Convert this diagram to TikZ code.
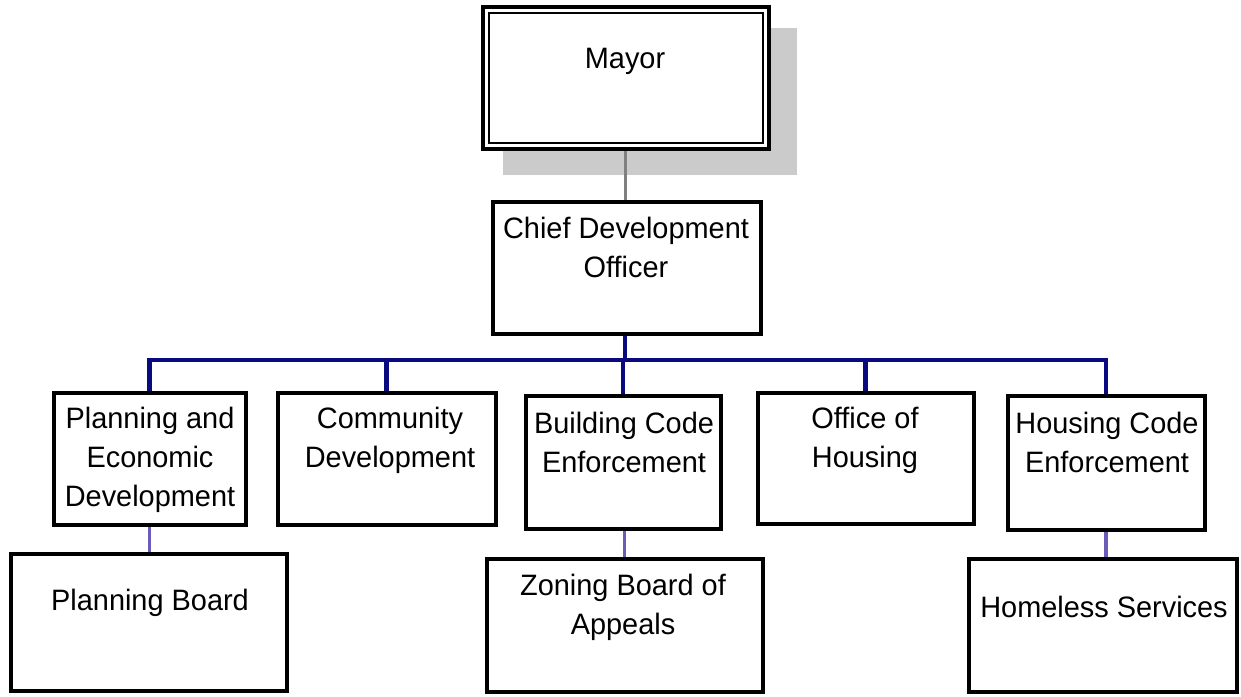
\documentclass[tikz,border=0pt]{standalone}
\usepackage{fontspec}
\setmainfont[FakeStretch=0.98]{Liberation Sans}
\definecolor{navy}{HTML}{0A0A80}
\definecolor{lilac}{HTML}{6A5CB8}
\definecolor{shadowgray}{HTML}{CBCBCB}
\definecolor{linkgray}{HTML}{808080}
\newcommand{\lbl}[1]{\fontsize{29.5}{39}\selectfont\begin{tabular}[t]{@{}c@{}}#1\end{tabular}}
\begin{document}
\begin{tikzpicture}[x=1pt,y=-1pt,
  box/.style={draw=black,line width=4pt,fill=white,rectangle,inner sep=0pt},
  txt/.style={anchor=base,inner sep=0pt},
  toplink/.style={draw=navy,line width=4.5pt},
  sublink/.style={draw=lilac,line width=3.5pt},
  mayorlink/.style={draw=linkgray,line width=3pt}]
\useasboundingbox (0,0) rectangle (1241,696);
% shadow of mayor box
\fill[shadowgray] (503,28) rectangle (797,175);
% mayor box
\node[box,line width=4.5pt,minimum width=286pt,minimum height=142pt] (mayor) at (626,78) {};
\node[draw=black,line width=2.5pt,rectangle,inner sep=0pt,minimum width=274pt,minimum height=130pt] (mayorin) at (626,78) {};
% boxes
\node[box,minimum width=268pt,minimum height=132pt] (cdo) at (626.5,267.5) {};
\node[box,minimum width=192pt,minimum height=132pt] (ped) at (149.5,458.5) {};
\node[box,minimum width=218pt,minimum height=132pt] (cd) at (386.5,458.5) {};
\node[box,minimum width=195pt,minimum height=133pt] (bce) at (623,462) {};
\node[box,minimum width=216pt,minimum height=131pt] (oh) at (865.5,458) {};
\node[box,minimum width=197pt,minimum height=134pt] (hce) at (1106,462.5) {};
\node[box,minimum width=276pt,minimum height=137pt] (pb) at (148.5,622) {};
\node[box,minimum width=276pt,minimum height=133pt] (zba) at (624.5,625) {};
\node[box,minimum width=268pt,minimum height=133pt] (hs) at (1102.5,625) {};
% connectors
\coordinate (bus) at (625,360);
\coordinate (shadowbottom) at (625,175);
\draw[mayorlink] (shadowbottom) -- (cdo.north -| shadowbottom);
\draw[mayorlink] (mayor.south -| shadowbottom) -- (shadowbottom);
\draw[toplink] (cdo.south -| bus) -- (bus);
\draw[toplink] (ped.north) |- (bus) -| (hce.north);
\draw[toplink] (cd.north) -- (cd.north |- bus);
\draw[toplink] (bce.north) -- (bce.north |- bus);
\draw[toplink] (oh.north) -- (oh.north |- bus);
\draw[sublink] (ped.south) -- (ped.south |- pb.north);
\draw[sublink] (bce.south -| zba.north) -- (zba.north);
\draw[sublink] (hce.south) -- (hce.south |- hs.north);
% texts
\node[txt] (tmayor) at (625,68) {\lbl{Mayor}};
\node[txt] (tcdo) at (626,238) {\lbl{Chief Development\\Officer}};
\node[txt] (tped) at (150,428) {\lbl{Planning and\\Economic\\Development}};
\node[txt] (tcd) at (390,428) {\lbl{Community\\Development}};
\node[txt] (tbce) at (624,433) {\lbl{Building Code\\Enforcement}};
\node[txt] (toh) at (865,428) {\lbl{Office of\\Housing}};
\node[txt] (thce) at (1107,433) {\lbl{Housing Code\\Enforcement}};
\node[txt] (tpb) at (150,610) {\lbl{Planning Board}};
\node[txt] (tzba) at (623,595) {\lbl{Zoning Board of\\Appeals}};
\node[txt] (ths) at (1104,617) {\lbl{Homeless Services}};
\end{tikzpicture}
\end{document}
